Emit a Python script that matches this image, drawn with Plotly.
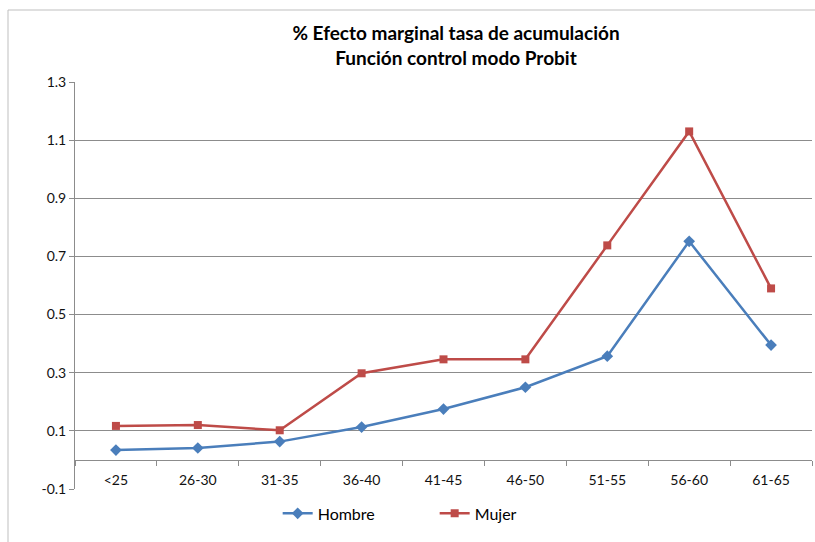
import plotly.graph_objects as go

# Age groups and marginal effects (%) by sex
categorias = ["<25", "26-30", "31-35", "36-40", "41-45", "46-50", "51-55", "56-60", "61-65"]
hombre = [0.034, 0.041, 0.063, 0.113, 0.175, 0.250, 0.357, 0.752, 0.395]
mujer = [0.117, 0.120, 0.102, 0.298, 0.346, 0.346, 0.738, 1.130, 0.590]
y_ticks = [-0.1, 0.1, 0.3, 0.5, 0.7, 0.9, 1.1, 1.3]

FONT = "Lato"
AZUL = "#4A7EBB"
ROJO = "#BE4B48"
GRIS = "#8C8C8C"

fig = go.Figure()
fig.add_trace(go.Scatter(
    x=categorias, y=hombre, name="Hombre", mode="lines+markers",
    line=dict(color=AZUL, width=2.5),
    marker=dict(symbol="diamond", size=9, color=AZUL),
))
fig.add_trace(go.Scatter(
    x=categorias, y=mujer, name="Mujer", mode="lines+markers",
    line=dict(color=ROJO, width=2.5),
    marker=dict(symbol="square", size=8, color=ROJO),
))

y_min, y_max = y_ticks[0], y_ticks[-1]

fig.update_layout(
    width=815, height=542,
    margin=dict(l=75, r=3, t=82, b=53),
    paper_bgcolor="white", plot_bgcolor="white",
    font=dict(family=FONT, size=14, color="#111111"),
    title=dict(
        text="<b>% Efecto marginal tasa de acumulación<br>Función control modo Probit</b>",
        x=456 / 815, xanchor="center", y=1 - 40 / 542, yanchor="middle",
        font=dict(family=FONT, size=19, color="#000000"),
    ),
    xaxis=dict(
        type="category", categoryorder="array", categoryarray=categorias,
        range=[-0.5, len(categorias) - 0.5],
        anchor="free", position=(0 - y_min) / (y_max - y_min),
        showline=True, linecolor=GRIS, linewidth=1,
        ticks="outside", ticklen=5, tickcolor=GRIS, tickson="boundaries",
        showgrid=False, ticklabelstandoff=7,
        tickfont=dict(family=FONT, size=14, color="#111111"),
    ),
    yaxis=dict(
        range=[y_min, y_max], tickvals=y_ticks,
        ticktext=[f"{v:.1f}" for v in y_ticks],
        showline=True, linecolor=GRIS, linewidth=1,
        ticks="outside", ticklen=5, tickcolor=GRIS,
        showgrid=True, gridcolor=GRIS, gridwidth=1,
        zeroline=False,
        tickfont=dict(family=FONT, size=14, color="#111111"),
    ),
    legend=dict(
        orientation="h", x=0.275, xanchor="left", y=-0.06, yanchor="middle",
        font=dict(family=FONT, size=16, color="#000000"),
        entrywidth=112, entrywidthmode="pixels",
        bgcolor="rgba(0,0,0,0)",
    ),
    showlegend=True,
)

# Outer chart frame
fig.add_shape(
    type="rect", xref="paper", yref="paper",
    x0=(8 - 75) / 737, x1=(830 - 75) / 737,
    y0=(489 - 560) / 407, y1=(489 - 10) / 407,
    line=dict(color="#BFBFBF", width=1), layer="below",
)

fig.write_html("out.html")
